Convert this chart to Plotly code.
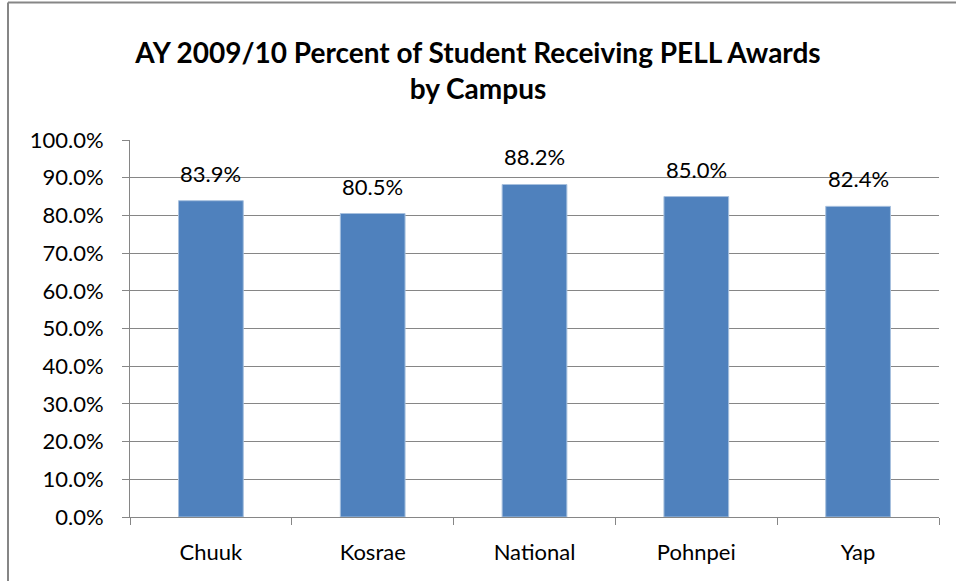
import plotly.graph_objects as go

campuses = ["Chuuk", "Kosrae", "National", "Pohnpei", "Yap"]
percent = [83.9, 80.5, 88.2, 85.0, 82.4]
y_ticks = [0, 10, 20, 30, 40, 50, 60, 70, 80, 90, 100]
y_tick_labels = [f"{v:.1f}%" for v in y_ticks]
data_labels = [f"{v:.1f}%" for v in percent]

W, H = 956, 581
L, R, T, B = 130, 17, 140, 64
pw, ph = W - L - R, H - T - B
FONT = "Lato, Noto Sans, sans-serif"

fig = go.Figure()
fig.add_trace(go.Bar(
    x=campuses, y=percent,
    marker=dict(color="#4F81BD", line=dict(color="#A7C0DE", width=1)),
    width=0.4,
    hoverinfo="skip",
))

for c, v, t in zip(campuses, percent, data_labels):
    fig.add_annotation(x=c, y=v, text=t, showarrow=False,
                       xanchor="center", yanchor="bottom", yshift=12,
                       font=dict(family=FONT, size=22, color="#000000"))

fig.update_layout(
    width=W, height=H,
    margin=dict(l=L, r=R, t=T, b=B),
    paper_bgcolor="white", plot_bgcolor="white",
    showlegend=False,
    title=dict(
        text="<b>AY 2009/10 Percent of Student Receiving PELL Awards<br>by Campus</b>",
        x=0.5, xanchor="center", xref="container",
        y=1 - 63 / H, yanchor="middle",
        font=dict(family=FONT, size=28, color="#000000"),
    ),
    font=dict(family=FONT, size=22, color="#000000"),
    bargap=0.6,
)
fig.update_yaxes(
    range=[0, 100], tickvals=y_ticks, ticktext=y_tick_labels,
    showgrid=True, gridcolor="#868686", gridwidth=1,
    showline=True, linecolor="#868686", linewidth=1,
    ticks="outside", ticklen=7, tickcolor="#868686",
    ticklabelstandoff=14,
    tickfont=dict(size=22), zeroline=False,
)
fig.update_xaxes(
    showline=True, linecolor="#868686", linewidth=1,
    ticks="outside", ticklen=7, tickcolor="#868686", tickson="boundaries",
    ticklabelstandoff=16,
    tickfont=dict(size=22), showgrid=False,
)

# chart border (left and top edges visible)
x0 = (8 - L) / pw
y_top = (H - B - 2.5) / ph
fig.add_shape(type="line", xref="paper", yref="paper",
              x0=x0, x1=x0, y0=(H - B - H) / ph, y1=y_top,
              line=dict(color="#868686", width=2))
fig.add_shape(type="line", xref="paper", yref="paper",
              x0=x0, x1=(W - L) / pw, y0=y_top, y1=y_top,
              line=dict(color="#868686", width=2))

fig.write_html("out.html", config={"displayModeBar": False},
               post_script="document.body.style.margin='0px';")
